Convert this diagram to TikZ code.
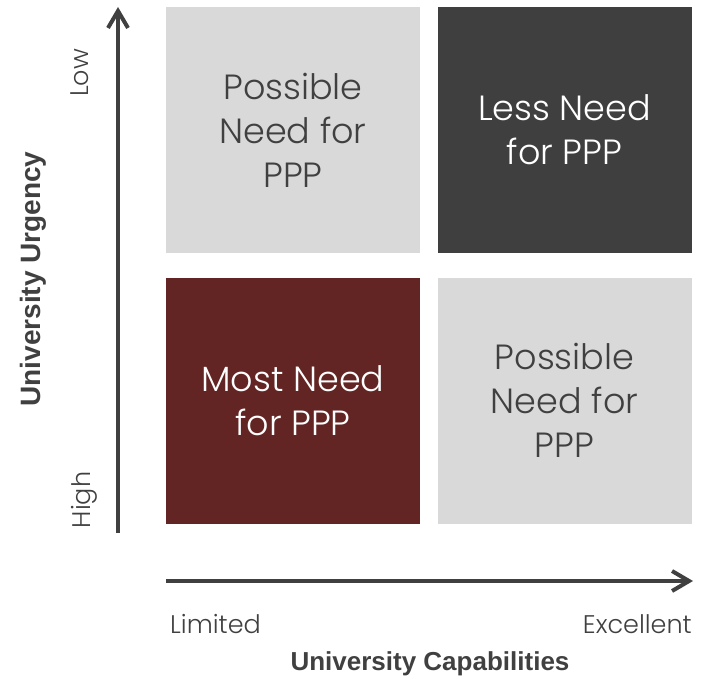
\documentclass[tikz,border=0pt]{standalone}
\usepackage{fontspec}
\usetikzlibrary{arrows.meta}
\IfFontExistsTF{Poppins Light}
  {\newfontfamily\qfont{Poppins Light}}
  {\newfontfamily\qfont{Poppins}}
\newfontfamily\bfont{Liberation Sans}[BoldFont={Liberation Sans Bold}]
\definecolor{ink}{HTML}{404040}
\definecolor{paleq}{HTML}{D9D9D9}
\definecolor{darkq}{HTML}{3F3F3F}
\definecolor{maroon}{HTML}{632523}
\tikzset{
  quad/.style={inner sep=0pt, outer sep=0pt, minimum width=254pt, minimum height=246pt,
    align=center, font=\qfont\fontsize{35}{44}\selectfont},
  axisline/.style={draw=ink, line width=3.5pt,
    -{Straight Barb[length=17pt, width=20pt, line width=4pt]}},
  tick/.style={text=ink, inner sep=0pt, font=\qfont\fontsize{25.5}{30}\selectfont},
  title/.style={text=ink, inner sep=0pt, font=\bfont\bfseries\fontsize{26}{30}\selectfont}
}
\begin{document}
\begin{tikzpicture}[x=1pt,y=-1pt]
\useasboundingbox (0,0) rectangle (707,682);
% four quadrants
\node[quad, fill=paleq, text=ink]   (tl) at (293,130) {Possible\\Need for\\PPP};
\node[quad, fill=darkq, text=white] (tr) at (564.5,130) {Less Need\\for PPP};
\node[quad, fill=maroon, text=white] (bl) at (293,400.5) {Most Need\\for PPP};
\node[quad, fill=paleq, text=ink]   (br) at (564.5,400.5) {Possible\\Need for\\PPP};
% axes
\coordinate (ybase) at (118,533);
\coordinate (ytip) at (118,7);
\coordinate (xbase) at (166,581);
\coordinate (xtip) at (693,581);
\draw[axisline] (ybase) -- (ytip);
\draw[axisline] (xbase) -- (xtip);
% axis end labels
\node[tick, rotate=90] (low) at (80,73) {Low};
\node[tick, rotate=90] (high) at (84,500) {High};
\node[tick, anchor=base west] (limited) at (170,633) {Limited};
\node[tick, anchor=base east] (excellent) at (692,633) {Excellent};
% axis titles
\node[title, rotate=90, font=\bfont\bfseries\fontsize{28}{30}\selectfont] (urgency) at (33,279) {University Urgency};
\node[title] (capab) at (430,664) {University Capabilities};
\end{tikzpicture}
\end{document}
